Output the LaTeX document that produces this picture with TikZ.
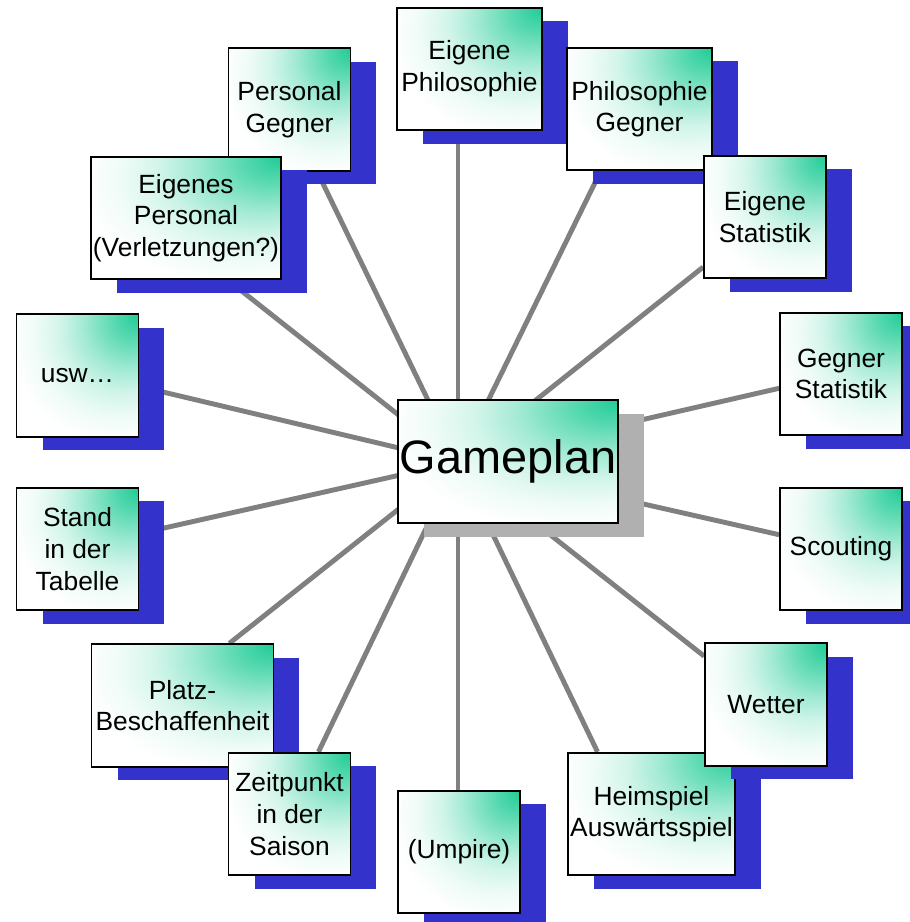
\documentclass[tikz,border=0pt]{standalone}
\usepackage{fontspec}
\setmainfont{Liberation Sans}
\usepackage{tikz}
\usetikzlibrary{shadows}
\usetikzlibrary{backgrounds}
\definecolor{tealgreen}{RGB}{32,204,150}
\definecolor{shadowblue}{RGB}{51,51,204}
\definecolor{plangray}{RGB}{176,176,176}
\definecolor{spokegray}{RGB}{128,128,128}
\pgfdeclareradialshading{greencorner}{\pgfpoint{25bp}{25bp}}{color(0bp)=(tealgreen); color(8bp)=(tealgreen!75!white); color(18bp)=(tealgreen!42!white); color(26bp)=(tealgreen!20!white); color(34bp)=(tealgreen!7!white); color(42bp)=(white); color(100bp)=(white)}
\tikzset{
  tile/.style={draw, line width=1pt, shade, shading=greencorner, minimum height=2.45cm, inner sep=0pt, align=center},
  topic/.style={tile, minimum width=#1, font=\fontsize{15}{18}\selectfont,
    drop shadow={shadow xshift=.52cm, shadow yshift=-.27cm, fill=shadowblue, opacity=1}},
  topic/.default=2.44cm,
  plan/.style={tile, minimum width=4.4cm, font=\fontsize{26.7}{32}\selectfont,
    drop shadow={shadow xshift=.52cm, shadow yshift=-.28cm, fill=plangray, opacity=1}},
  spoke/.style={draw=spokegray, line width=2.8pt}
}

\begin{document}
\begin{tikzpicture}[x=0.02cm, y=-0.02cm]
\useasboundingbox (0,0) rectangle (909,922);
\coordinate (hub) at (458,462);
\node[plan] (plan) at (508,461.5) {Gameplan};
\node[topic] (persg) at (289.5,109.5) {Personal\\Gegner};
\node[topic=3.8cm] (epers) at (186,218) {Eigenes\\Personal\\(Verletzungen?)};
\node[topic=2.9cm] (ephil) at (469.5,69) {Eigene\\Philosophie};
\node[topic=2.9cm] (pgeg) at (639.5,109) {Philosophie\\Gegner};
\node[topic] (estat) at (765,217) {Eigene\\Statistik};
\node[topic] (gstat) at (841,374) {Gegner\\Statistik};
\node[topic] (scout) at (841,549) {Scouting};
\node[topic] (usw) at (77.5,375.5) {usw…};
\node[topic] (stand) at (77.5,549) {Stand\\in der\\Tabelle};
\node[topic=3.64cm] (platz) at (182.5,705.5) {Platz-\\Beschaffenheit};
\node[topic] (zeit) at (289.5,814) {Zeitpunkt\\in der\\Saison};
\node[topic] (umpire) at (459,852) {(Umpire)};
\node[topic=3.34cm] (heim) at (651.5,814) {Heimspiel\\Auswärtsspiel};
\node[topic] (wetter) at (766,704.5) {Wetter};
\begin{scope}[on background layer]
\draw[spoke] (hub) -- (hub |- ephil.south);
\draw[spoke] (hub) -- (hub |- umpire.north);
\foreach \t/\a in {persg/294, epers/304, pgeg/238, estat/219, gstat/193, scout/167, wetter/142, heim/131, zeit/65, platz/53, stand/14, usw/350}
  \draw[spoke] (hub) -- (\t.\a);
\end{scope}
\end{tikzpicture}
\end{document}
